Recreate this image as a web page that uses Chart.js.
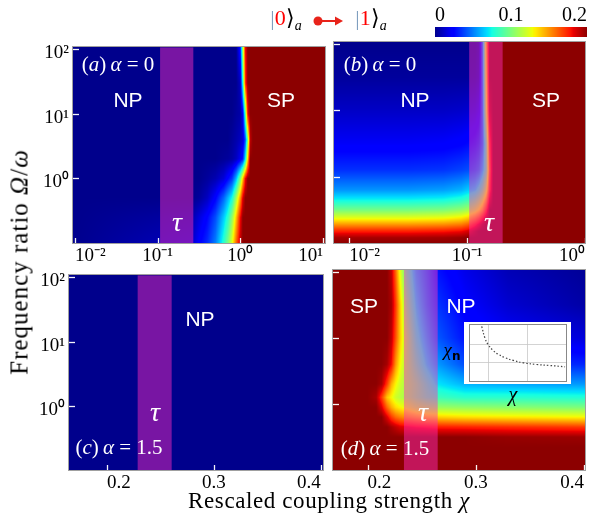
<!DOCTYPE html>
<html><head><meta charset="utf-8">
<script src="https://cdn.jsdelivr.net/npm/chart.js@4.4.1/dist/chart.umd.min.js"></script>
<style>
html,body{margin:0;padding:0;background:#fff;}
body{width:592px;height:514px;position:relative;overflow:hidden;font-family:'Liberation Serif','Times New Roman',serif;}
canvas{position:absolute;}
.t{position:absolute;transform:translate(-50%,-50%);white-space:nowrap;line-height:1;}
.w{color:#fff;}
.sans{font-family:'Liberation Sans',Arial,sans-serif;font-size:21px;}
.tau{font-size:28px;font-style:italic;}
.lab{font-size:21px;}
</style></head><body>
<canvas id="ca" width="314" height="241" style="left:25px;top:32px"></canvas>
<canvas id="cb" width="268" height="241" style="left:324px;top:32px"></canvas>
<canvas id="cc" width="316" height="240" style="left:21px;top:260px"></canvas>
<canvas id="cd" width="269" height="240" style="left:323px;top:260px"></canvas>
<canvas id="cbar" width="172" height="40" style="left:420px;top:0px"></canvas>
<canvas id="cins" width="107" height="62" style="left:464px;top:322px;background:#fff"></canvas>

<div class="t lab w" style="left:118px;top:64px">(<i>a</i>)&thinsp;<i>α</i> = 0</div>
<div class="t sans w" style="left:128px;top:99px">NP</div>
<div class="t sans w" style="left:281px;top:99px">SP</div>
<div class="t tau w" style="left:177px;top:222px">τ</div>

<div class="t lab w" style="left:380px;top:64px">(<i>b</i>)&thinsp;<i>α</i> = 0</div>
<div class="t sans w" style="left:415px;top:99px">NP</div>
<div class="t sans w" style="left:546px;top:99px">SP</div>
<div class="t tau w" style="left:489px;top:222px">τ</div>

<div class="t sans w" style="left:200px;top:318px">NP</div>
<div class="t tau w" style="left:155px;top:412px">τ</div>
<div class="t lab w" style="left:119px;top:447px">(<i>c</i>)&thinsp;<i>α</i> = 1.5</div>

<div class="t sans w" style="left:364px;top:305px">SP</div>
<div class="t sans w" style="left:461px;top:305px">NP</div>
<div class="t tau w" style="left:423px;top:412px">τ</div>
<div class="t lab w" style="left:385px;top:448px">(<i>d</i>)&thinsp;<i>α</i> = 1.5</div>

<div class="t" style="left:452px;top:351px;font-size:19px"><i>χ</i><sub style="font-size:12px;font-weight:bold;font-family:'DejaVu Sans',sans-serif">n</sub></div>
<div class="t" style="left:513px;top:394px;font-size:20px"><i>χ</i></div>

<div class="t" style="left:286px;top:20px;font-size:22px"><span style="color:#7f9fbf">|</span><span style="color:#f00">0</span>⟩<sub style="font-size:14px"><i>a</i></sub></div>
<svg style="position:absolute;left:308px;top:12px" width="40" height="18">
  <circle cx="10" cy="9" r="4.5" fill="#e8231a"/>
  <line x1="10" y1="9" x2="30" y2="9" stroke="#e8231a" stroke-width="2"/>
  <polygon points="27,4.5 35,9 27,13.5" fill="#e8231a"/>
</svg>
<div class="t" style="left:371px;top:20px;font-size:22px"><span style="color:#7f9fbf">|</span><span style="color:#f00">1</span>⟩<sub style="font-size:14px"><i>a</i></sub></div>

<div class="t" style="left:329px;top:500px;font-size:23px;letter-spacing:0.6px">Rescaled coupling strength <i>χ</i></div>
<div class="t" style="left:19px;top:262px;font-size:25px;letter-spacing:1px;transform:translate(-50%,-50%) rotate(-90deg)">Frequency ratio <i>Ω</i>/<i>ω</i></div>

<script>
// ---------------- DATA ----------------
// colour-mapped quantity, stored in units of 0.01 (colour scale 0 … 0.2)
// Panel (a): α = 0, χ on log axis
const aChi   = [0.0093, 0.251, 0.316, 0.398, 0.501, 0.631, 0.708, 0.794, 0.891, 1.0, 1.072, 1.148, 1.23, 1.318, 1.413, 10.6];
const aRatio = [107, 30, 10, 4, 2, 1, 0.5, 0.25, 0.1];
const aMap = [
  [0,0,0,0,0,0,0,0,0,3,11,18,20,20,20,20],
  [0,0,0,0,0,0,0,0,0,1,8,17,20,20,20,20],
  [0,0,0,0,0,0,0,0,0.3,0.5,2,9,18,20,20,20],
  [0,0,0,0,0,0,0,0.3,0.6,1,1.5,4,10,19,20,20],
  [0,0,0,0,0,0.2,0.3,0.5,1,2,3,7,14,20,20,20],
  [0,0,0,0.3,0.7,1.5,2.5,3.5,6,10,14,18,20,20,20,20],
  [0,0,0.3,1,2.4,4.5,6,7.5,11,15,18.5,20,20,20,20,20],
  [0,0.5,1.5,2.5,4,6.5,8,10.5,14,18,20,20,20,20,20,20],
  [0,1,2.3,3.3,5,8,10,12.5,16,19,20,20,20,20,20,20]
];
const tauA = [0.107, 0.27];

// Panel (b): α = 0, χ on log axis
const bChi   = [0.0074, 0.0316, 0.0631, 0.0891, 0.102, 0.117, 0.126, 0.135, 0.145, 0.155, 0.166, 0.2, 1.0];
const bRatio = [107, 31.6, 10, 3.16, 1.26, 0.631, 0.447, 0.316, 0.24, 0.19, 0.151, 0.12, 0.1];
const bMap = [
  [0,0,0,0,0,0,0.5,5,14,20,20,20,20],
  [0.3,0.3,0.3,0.3,0.3,0.4,0.8,5,13,20,20,20,20],
  [1.1,1.1,1.1,1.2,1.3,1.5,2,5,12,19,20,20,20],
  [2.1,2.1,2.2,2.4,2.6,3,3.5,5,9,17,20,20,20],
  [3.4,3.4,3.5,3.8,4,4.5,5,6.5,9,16,20,20,20],
  [5.4,5.4,5.6,6,6.5,7,8,9.5,12,17,20,20,20],
  [7.3,7.3,7.5,8,8.5,9.5,10.5,12,14.5,18.5,20,20,20],
  [9.8,9.8,10,10.5,11,12,13,14.5,17,20,20,20,20],
  [12.5,12.5,12.7,13.2,13.8,15,16,17.5,19,20,20,20,20],
  [15,15,15.2,15.6,16.2,17.5,18.5,19.5,20,20,20,20,20],
  [17.5,17.5,17.7,18,18.5,19.5,20,20,20,20,20,20,20],
  [19.5,19.5,19.6,19.8,20,20,20,20,20,20,20,20,20],
  [20,20,20,20,20,20,20,20,20,20,20,20,20]
];
const tauB = [0.104, 0.2];

// Panel (c): α = 1.5, χ linear
const cChi   = [0.1645, 0.402];
const cRatio = [107, 0.1];
const cMap = [
  [0,0],
  [0,0]
];
const tauC = [0.2287, 0.2605];

// Panel (d): α = 1.5, χ linear
const dChi   = [0.168, 0.2, 0.208, 0.213, 0.218, 0.222, 0.226, 0.230, 0.236, 0.245, 0.255, 0.265, 0.29, 0.33, 0.401];
const dRatio = [107, 31.6, 10, 3.98, 2.0, 1.26, 0.891, 0.631, 0.447, 0.316, 0.224, 0.1];
const dMap = [
  [20,20,20,20,20,19,16,12.5,9,6,4.5,2.8,1.8,0.8,0.2],
  [20,20,20,20,20,19.5,17,14,10,7,5,3.5,2.3,1.3,0.5],
  [20,20,20,20,20,19,16.5,14,11,8,6,4.2,2.8,2.2,1.5],
  [20,20,20,20,19.5,18,15,13,11,9,7,5.5,4,3.6,3.2],
  [20,20,20,19.5,17,14.5,13,12,11,10,8.5,7,6,5.8,5.5],
  [20,20,19.5,17,14,13,12,11.5,11,10,9,8.5,8,8,7.8],
  [20,20,20,18.5,16,14.5,13.5,13,12.5,11.5,11,10.7,10.5,10.3,10],
  [20,20,20,20,18.5,17,16,15.5,15,14.5,14,13.8,13.5,13.3,13],
  [20,20,20,20,20,19.5,19,18.5,18.3,18,17.8,17.6,17.5,17.3,17],
  [20,20,20,20,20,20,20,20,20,20,20,20,20,19.8,19.7],
  [20,20,20,20,20,20,20,20,20,20,20,20,20,20,20],
  [20,20,20,20,20,20,20,20,20,20,20,20,20,20,20]
];
const tauD = [0.2336, 0.2648];

// Inset of panel (d): χ_n versus χ (normalised)
const insetX = [0.122, 0.156, 0.191, 0.243, 0.295, 0.365, 0.451, 0.556, 0.694, 0.833, 0.99];
const insetY = [0.976, 0.765, 0.645, 0.542, 0.476, 0.416, 0.367, 0.325, 0.295, 0.277, 0.253];
const insetGridX = [0.19, 0.6];
const insetGridY = [0.33, 0.66];

// Tick values and labels
const logTicksA = [0.01, 0.1, 1, 10];
const logLabelsA = ['10⁻²', '10⁻¹', '10⁰', '10¹'];
const logTicksB = [0.01, 0.1, 1];
const logLabelsB = ['10⁻²', '10⁻¹', '10⁰'];
const ratioTicks = [1, 10, 100];
const ratioLabels = ['10⁰', '10¹', '10²'];
const linTicks = [0.2, 0.3, 0.4];
const linLabels = ['0.2', '0.3', '0.4'];
const barTicks = [0, 0.1, 0.2];
const barLabels = ['0', '0.1', '0.2'];
const UNIT = 0.01, VMAX = 0.2;

// ---------------- RENDERING ----------------
const FONT = "'Liberation Serif','Times New Roman',serif";
const JR=[[0,0],[0.35,0],[0.66,1],[0.89,1],[1,0.55]];
const JG=[[0,0],[0.125,0],[0.375,1],[0.64,1],[0.91,0],[1,0]];
const JB=[[0,0.55],[0.11,1],[0.34,1],[0.65,0],[1,0]];
function seg(p,t){for(let i=0;i<p.length-1;i++){if(t<=p[i+1][0]){const f=(t-p[i][0])/(p[i+1][0]-p[i][0]);return p[i][1]+(p[i+1][1]-p[i][1])*f;}}return p[p.length-1][1];}
function jet(v){let t=Math.max(0,Math.min(1,v/VMAX));return [seg(JR,t),seg(JG,t),seg(JB,t)].map(c=>Math.round(255*c));}
function bracket(arr,p){
  const n=arr.length;
  for(let k=0;k<n-1;k++){
    const a=arr[k],b=arr[k+1];
    const lo=Math.min(a,b),hi=Math.max(a,b);
    if(p>=lo&&p<=hi){return [k,k+1,(b===a)?0:(p-a)/(b-a)];}
  }
  const d0=Math.abs(p-arr[0]),d1=Math.abs(p-arr[n-1]);
  return d0<d1?[0,0,0]:[n-1,n-1,0];
}

const heatPlugin={
  id:'heat',
  beforeDatasetsDraw(chart){
    const h=chart.options.plugins.heat; if(!h||!h.z) return;
    const {ctx,chartArea:a,scales:{x,y}}=chart;
    const L=Math.round(a.left),T=Math.round(a.top),W=Math.round(a.right)-L,H=Math.round(a.bottom)-T;
    const gx=h.xs.map(v=>x.getPixelForValue(v));
    const gy=h.ys.map(v=>y.getPixelForValue(v));
    const cols=[];for(let i=0;i<W;i++)cols.push(bracket(gx,L+i+0.5));
    const img=ctx.createImageData(W,H);
    for(let j=0;j<H;j++){
      const [r0,r1,fy]=bracket(gy,T+j+0.5);
      for(let i=0;i<W;i++){
        const [c0,c1,fx]=cols[i];
        const v=((h.z[r0][c0]*(1-fx)+h.z[r0][c1]*fx)*(1-fy)+(h.z[r1][c0]*(1-fx)+h.z[r1][c1]*fx)*fy)*UNIT;
        const c=jet(v);const o=(j*W+i)*4;
        img.data[o]=c[0];img.data[o+1]=c[1];img.data[o+2]=c[2];img.data[o+3]=255;
      }
    }
    ctx.putImageData(img,L,T);
    if(h.tau){
      const x0=x.getPixelForValue(h.tau[0]),x1=x.getPixelForValue(h.tau[1]);
      ctx.save();ctx.fillStyle='rgba(255,45,190,0.47)';
      ctx.fillRect(x0,a.top,x1-x0,a.bottom-a.top);ctx.restore();
    }
  },
  afterDraw(chart){
    const h=chart.options.plugins.heat; if(!h||!h.z) return;
    const {ctx,chartArea:a,scales:{x,y}}=chart;
    ctx.save();
    ctx.strokeStyle='rgba(255,255,255,0.95)';ctx.lineWidth=1.3;
    x.ticks.forEach(t=>{const p=Math.round(x.getPixelForValue(t.value))+0.5;ctx.beginPath();ctx.moveTo(p,a.bottom);ctx.lineTo(p,a.bottom-5);ctx.stroke();});
    y.ticks.forEach(t=>{const p=Math.round(y.getPixelForValue(t.value))+0.5;ctx.beginPath();ctx.moveTo(a.left,p);ctx.lineTo(a.left+6,p);ctx.stroke();});
    ctx.strokeStyle='#a0a0a0';ctx.lineWidth=1;
    ctx.strokeRect(Math.round(a.left)-0.5,Math.round(a.top)-0.5,Math.round(a.right-a.left)+1,Math.round(a.bottom-a.top)+1);
    ctx.restore();
  }
};
Chart.register(heatPlugin);

function panel(id,o){
  return new Chart(document.getElementById(id),{
    type:'scatter',
    data:{datasets:[]},
    options:{
      responsive:false,animation:false,devicePixelRatio:1,
      layout:{padding:o.pad},
      plugins:{legend:{display:false},tooltip:{enabled:false},heat:{xs:o.xs,ys:o.ys,z:o.z,tau:o.tau}},
      scales:{
        x:{type:o.xType,min:o.xMin,max:o.xMax,bounds:'data',
           grid:{display:false,drawTicks:false},border:{display:false},
           afterBuildTicks:s=>{s.ticks=o.xTicks.map(v=>({value:v}));},
           afterFit:s=>{s.height=30;},
           ticks:{align:'inner',padding:2,autoSkip:false,maxRotation:0,color:'#000',
                  font:{family:FONT,size:19},callback:(v,i)=>o.xLabels[i]}},
        y:{type:'logarithmic',min:0.1,max:107,bounds:'data',
           grid:{display:false,drawTicks:false},border:{display:false},
           afterBuildTicks:s=>{s.ticks=ratioTicks.map(v=>({value:v}));},
           afterFit:s=>{s.width=o.yW;},
           ticks:{display:o.yLabels,padding:4,labelOffset:4,autoSkip:false,color:'#000',
                  font:{family:FONT,size:19},callback:(v,i)=>ratioLabels[i]}}
      }
    }
  });
}

panel('ca',{xs:aChi,ys:aRatio,z:aMap,tau:tauA,xType:'logarithmic',xMin:0.00946,xMax:10.57,
  xTicks:logTicksA,xLabels:logLabelsA,yLabels:true,yW:48,pad:{top:10,right:14,left:0,bottom:0}});
panel('cb',{xs:bChi,ys:bRatio,z:bMap,tau:tauB,xType:'logarithmic',xMin:0.00741,xMax:1.0,
  xTicks:logTicksB,xLabels:logLabelsB,yLabels:false,yW:10,pad:{top:10,right:7,left:0,bottom:0}});
panel('cc',{xs:cChi,ys:cRatio,z:cMap,tau:tauC,xType:'linear',xMin:0.1645,xMax:0.402,
  xTicks:linTicks,xLabels:linLabels,yLabels:true,yW:48,pad:{top:10,right:14,left:0,bottom:0}});
panel('cd',{xs:dChi,ys:dRatio,z:dMap,tau:tauD,xType:'linear',xMin:0.168,xMax:0.401,
  xTicks:linTicks,xLabels:linLabels,yLabels:false,yW:10,pad:{top:10,right:7,left:0,bottom:0}});

// Colour bar
new Chart(document.getElementById('cbar'),{
  type:'scatter',data:{datasets:[]},
  plugins:[{id:'bar',beforeDatasetsDraw(chart){
    const {ctx,chartArea:a,scales:{x}}=chart;
    for(let px=Math.floor(a.left);px<Math.ceil(a.right);px++){
      const c=jet(x.getValueForPixel(px+0.5));
      ctx.fillStyle=`rgb(${c[0]},${c[1]},${c[2]})`;ctx.fillRect(px,a.top,1,a.bottom-a.top);
    }}}],
  options:{responsive:false,animation:false,devicePixelRatio:1,
    layout:{padding:{left:15,right:5,top:1,bottom:3}},
    plugins:{legend:{display:false},tooltip:{enabled:false}},
    scales:{
      x:{type:'linear',position:'top',min:0,max:VMAX,bounds:'data',grid:{display:false,drawTicks:false},border:{display:false},
         afterBuildTicks:s=>{s.ticks=barTicks.map(v=>({value:v}));},afterFit:s=>{s.height=26;},
         ticks:{align:'inner',padding:1,color:'#000',font:{family:FONT,size:20,lineHeight:1},callback:(v,i)=>barLabels[i]}},
      y:{display:false,min:0,max:1}
    }}
});

// Inset
new Chart(document.getElementById('cins'),{
  type:'line',
  data:{labels:insetX,datasets:[{data:insetX.map((v,i)=>({x:v,y:insetY[i]})),borderColor:'#444',borderWidth:1.2,
    borderDash:[1.5,2],pointRadius:0,tension:0.4,fill:false}]},
  plugins:[{id:'box',afterDraw(chart){const {ctx,chartArea:a}=chart;ctx.save();ctx.strokeStyle='#888';ctx.lineWidth=1;
    ctx.strokeRect(Math.round(a.left)-0.5,Math.round(a.top)-0.5,Math.round(a.right-a.left)+1,Math.round(a.bottom-a.top)+1);ctx.restore();}}],
  options:{responsive:false,animation:false,devicePixelRatio:1,
    layout:{padding:{left:6,right:5,top:3,bottom:3}},
    plugins:{legend:{display:false},tooltip:{enabled:false}},
    scales:{
      x:{type:'linear',min:0,max:1,bounds:'data',border:{display:false},
         grid:{color:'#c8c8c8',drawTicks:false,lineWidth:0.8},
         afterBuildTicks:s=>{s.ticks=insetGridX.map(v=>({value:v}));},afterFit:s=>{s.height=0;},
         ticks:{display:false}},
      y:{type:'linear',min:0,max:1,bounds:'data',border:{display:false},
         grid:{color:'#c8c8c8',drawTicks:false,lineWidth:0.8},
         afterBuildTicks:s=>{s.ticks=insetGridY.map(v=>({value:v}));},afterFit:s=>{s.width=0;},
         ticks:{display:false}}
    }}
});
</script>
</body></html>
